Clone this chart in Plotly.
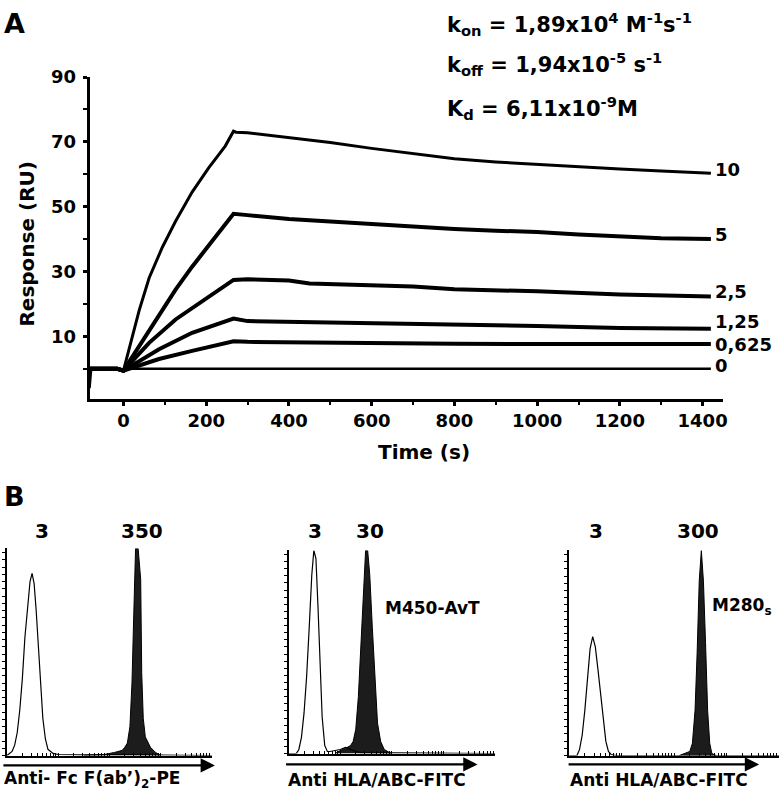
import numpy as np
import plotly.graph_objects as go

W, H = 784, 793
FONT = "DejaVu Sans, Verdana, sans-serif"

# ---------------- Panel A: SPR sensorgrams ----------------
conc_labels = ["10", "5", "2,5", "1,25", "0,625", "0"]

t_10 = [-82, -15, 0, 14, 38, 62, 94, 126, 166, 206, 246, 266, 272, 300, 400, 500, 600, 700, 800, 900, 1000, 1100, 1200, 1300, 1420]
r_10 = [0, 0, -0.6, 6, 18, 28, 37.5, 45.5, 54.5, 62, 68.7, 73.3, 73, 72.8, 71.3, 69.8, 68, 66.3, 64.8, 63.8, 63, 62.3, 61.6, 61, 60.3]

t_5 = [-82, -15, 0, 46, 86, 126, 166, 206, 266, 300, 400, 500, 600, 700, 800, 900, 1000, 1100, 1200, 1300, 1420]
r_5 = [0, 0, -0.6, 8.5, 16.5, 24.4, 31.5, 38, 47.8, 47.4, 46.2, 45.4, 44.6, 43.8, 43.1, 42.6, 42.2, 41.4, 40.7, 40.3, 40]

t_25 = [-82, -15, 0, 62, 126, 206, 266, 300, 400, 450, 600, 700, 800, 1000, 1200, 1420]
r_25 = [0, 0, -0.6, 8, 15.2, 22.3, 27.4, 27.6, 27.2, 26.3, 25.7, 25.4, 24.5, 23.9, 22.9, 22.3]

t_125 = [-82, -15, 0, 86, 166, 266, 300, 600, 800, 1000, 1200, 1420]
r_125 = [0, 0, -0.6, 6, 11.1, 15.5, 14.7, 14.1, 13.8, 13.2, 12.6, 12.3]

t_0625 = [-82, -15, 0, 86, 166, 266, 300, 500, 800, 1100, 1420]
r_0625 = [0, 0, -0.6, 3, 5.5, 8.5, 8.3, 8.0, 7.7, 7.6, 7.6]

t_0 = [-82, -78, -15, 0, 10, 1420]
r_0 = [-6, 0, 0, -0.6, 0, 0]

spr_t = [t_10, t_5, t_25, t_125, t_0625, t_0]
spr_r = [r_10, r_5, r_25, r_125, r_0625, r_0]

# ---------------- Panel B: flow cytometry histograms ----------------
# x in log10 fluorescence units (10^0 .. 10^4), y as % of max count
h1_open_lx = [0.0, 0.05, 0.1, 0.15, 0.2, 0.25, 0.3, 0.35, 0.4, 0.45, 0.49, 0.53, 0.57, 0.61, 0.65, 0.7, 0.75, 0.8, 0.9, 1.0, 1.5, 2.0, 4.0]
h1_open_y = [0, 1, 2, 5, 11, 22, 37, 57, 72, 84, 88, 83, 70, 53, 36, 18, 8, 3, 1, 0.5, 0.3, 0.5, 0]
h1_fill_lx = [1.5, 1.9, 2.1, 2.25, 2.3, 2.35, 2.4, 2.44, 2.48, 2.51, 2.56, 2.61, 2.63, 2.66, 2.7, 2.8, 2.9, 3.0]
h1_fill_y = [0, 0.5, 1.5, 2.5, 4, 6, 14, 35, 73, 100, 100, 85, 40, 18, 9, 4, 1.5, 0]

h2_open_lx = [0, 0.15, 0.2, 0.25, 0.3, 0.35, 0.4, 0.45, 0.49, 0.53, 0.57, 0.61, 0.65, 0.7, 0.75, 0.8, 0.9, 1.0, 1.1, 1.2, 1.3, 1.4, 4]
h2_open_y = [0, 0, 2, 8, 20, 38, 62, 88, 100, 96, 72, 45, 18, 4, 1, 1, 1.5, 2, 3, 2, 1, 0.5, 0]
h2_fill_lx = [0.9, 1.0, 1.1, 1.2, 1.25, 1.3, 1.35, 1.4, 1.45, 1.49, 1.53, 1.57, 1.62, 1.67, 1.72, 1.78, 1.85, 1.95, 2.0]
h2_fill_y = [0, 1.5, 2.5, 4, 6, 12, 28, 55, 85, 100, 100, 88, 62, 35, 15, 6, 2, 0.5, 0]

h3_open_lx = [0, 0.15, 0.2, 0.25, 0.3, 0.35, 0.4, 0.45, 0.5, 0.55, 0.6, 0.65, 0.7, 0.75, 0.8, 0.9, 4]
h3_open_y = [0, 0, 3, 10, 22, 38, 52, 58, 53, 42, 30, 17, 7, 2, 0.5, 0, 0]
h3_fill_lx = [2.1, 2.2, 2.3, 2.35, 2.4, 2.44, 2.48, 2.52, 2.56, 2.6, 2.64, 2.68, 2.72, 2.8]
h3_fill_y = [0, 1, 2, 6, 22, 50, 85, 100, 85, 55, 22, 6, 1, 0]

peak_labels = [["3", "350"], ["3", "30"], ["3", "300"]]
axis_labels = ["Anti- Fc F(ab\u2019)<sub>2</sub>-PE", "Anti HLA/ABC-FITC", "Anti HLA/ABC-FITC"]
bead_labels = ["", "M450-AvT", "M280<sub>s</sub>"]


def px(x):
    return x / W


def py(y):
    return 1 - y / H


fig = go.Figure()

# Panel A traces
widths = [3, 4, 4, 4, 4, 2.5]
for t, r, w in zip(spr_t, spr_r, widths):
    fig.add_trace(go.Scatter(x=t, y=r, mode="lines", line=dict(color="black", width=w),
                             xaxis="x", yaxis="y", showlegend=False, hoverinfo="skip"))

# Panel B traces
hists = [(h1_open_lx, h1_open_y, h1_fill_lx, h1_fill_y),
         (h2_open_lx, h2_open_y, h2_fill_lx, h2_fill_y),
         (h3_open_lx, h3_open_y, h3_fill_lx, h3_fill_y)]
for i, (olx, oy, flx, fy) in enumerate(hists):
    xa, ya = f"x{i+2}", f"y{i+2}"
    fig.add_trace(go.Scatter(x=10 ** np.array(flx), y=fy, mode="lines", fill="tozeroy",
                             fillcolor="#1c1c1c", line=dict(color="black", width=1),
                             xaxis=xa, yaxis=ya, showlegend=False, hoverinfo="skip"))
    fig.add_trace(go.Scatter(x=10 ** np.array(olx), y=oy, mode="lines",
                             line=dict(color="black", width=1.2),
                             xaxis=xa, yaxis=ya, showlegend=False, hoverinfo="skip"))

bold_tick = dict(family=FONT, size=18, color="black", weight="bold")

layout = dict(
    width=W, height=H, margin=dict(l=0, r=0, t=0, b=0),
    paper_bgcolor="white", plot_bgcolor="white", showlegend=False,
    xaxis=dict(domain=[px(90), px(727)], range=[-82, 1450], anchor="y",
               showline=True, linewidth=3, linecolor="black", showgrid=False, zeroline=False,
               ticks="outside", ticklen=4, tickwidth=2.5, tickcolor="black",
               tickvals=list(range(0, 1401, 200)), ticktext=[str(v) for v in range(0, 1401, 200)],
               tickfont=bold_tick, ticklabelstandoff=0,
               minor=dict(tickvals=list(range(100, 1400, 200)), ticks="outside", ticklen=3,
                          tickwidth=2, tickcolor="black")),
    yaxis=dict(domain=[py(393), py(67)], range=[-9.2, 90], anchor="x",
               showline=True, linewidth=3, linecolor="black", showgrid=False, zeroline=False,
               ticks="outside", ticklen=4, tickwidth=2.5, tickcolor="black",
               tickvals=[10, 30, 50, 70, 90], ticktext=["10", "30", "50", "70", "90"],
               tickfont=bold_tick, ticklabelstandoff=3,
               minor=dict(tickvals=[0, 20, 40, 60, 80], ticks="outside", ticklen=4,
                          tickwidth=2, tickcolor="black")),
)

hist_x_domains = [[px(7), px(213)], [px(290), px(498)], [px(572), px(783)]]
hist_y_domains = [[py(755), py(545)], [py(753), py(547)], [py(755), py(547)]]
for i in range(3):
    layout[f"xaxis{i+2}"] = dict(domain=hist_x_domains[i], type="log", range=[0, 4], anchor=f"y{i+2}",
                                 showline=True, linewidth=1.8, linecolor="black", showgrid=False,
                                 zeroline=False, ticks="inside", ticklen=3, tickwidth=1,
                                 tickcolor="black", dtick="D1", showticklabels=False)
    layout[f"yaxis{i+2}"] = dict(domain=hist_y_domains[i], range=[0, 100], anchor=f"x{i+2}",
                                 showline=True, linewidth=1.8, linecolor="black", showgrid=False,
                                 zeroline=False, ticks="outside", ticklen=3, tickwidth=1.2,
                                 tickcolor="black", dtick=3.5, showticklabels=False)
fig.update_layout(**layout)

ann = []


def text(x, y, s, size, xanchor="left", yanchor="middle"):
    ann.append(dict(x=px(x), y=py(y), xref="paper", yref="paper", text=s, showarrow=False,
                    xanchor=xanchor, yanchor=yanchor,
                    font=dict(family=FONT, size=size, color="black", weight="bold")))


# panel letters
text(2, 13, "A", 27)
text(2, 492, "B", 27)

# axis titles
text(426, 447, "Time (s)", 20, xanchor="center")
ann.append(dict(x=px(27), y=py(236), xref="paper", yref="paper", text="Response (RU)",
                showarrow=False, textangle=-90, xanchor="center", yanchor="middle",
                font=dict(family=FONT, size=20, color="black", weight="bold")))

# kinetics
text(447, 13, "k<sub>on</sub> = 1,89x10<sup>4</sup> M<sup>-1</sup>s<sup>-1</sup>", 21)
text(447, 54, "k<sub>off</sub> = 1,94x10<sup>-5</sup> s<sup>-1</sup>", 21)
text(447, 98, "K<sub>d</sub> = 6,11x10<sup>-9</sup>M", 21)

# concentration labels at the line ends
label_shift = [4, 5, 5, 7, 0, 3]
for lab, t, r, sh in zip(conc_labels, spr_t, spr_r, label_shift):
    ann.append(dict(x=t[-1], y=r[-1], xref="x", yref="y", text=lab, showarrow=False,
                    xanchor="left", yanchor="middle", xshift=2, yshift=sh,
                    font=dict(family=FONT, size=18, color="black", weight="bold")))

# panel B texts
peak_label_px = [[42, 143], [317, 372], [599, 702]]
for i in range(3):
    for lab, xx in zip(peak_labels[i], peak_label_px[i]):
        text(xx, 527, lab, 20, xanchor="center")
text(2, 779, axis_labels[0], 17)
text(287, 780, axis_labels[1], 17)
text(571, 780, axis_labels[2], 17)
text(385, 605, bead_labels[1], 17)
text(714, 604, bead_labels[2], 17)

# arrows under the histogram axes
arrows = [(3, 216, 765), (287, 480, 764), (571, 763, 764)]
for x0, x1, yy in arrows:
    ann.append(dict(x=px(x1), y=py(yy), xref="paper", yref="paper", ax=-(x1 - x0), ay=0,
                    axref="pixel", ayref="pixel", showarrow=True, arrowhead=2, arrowsize=1.3,
                    arrowwidth=2.2, arrowcolor="black", text=""))

fig.update_layout(annotations=ann)
fig.write_html("out.html", config={"displayModeBar": False},
               post_script="document.body.style.margin='0';document.body.style.overflow='hidden';")
